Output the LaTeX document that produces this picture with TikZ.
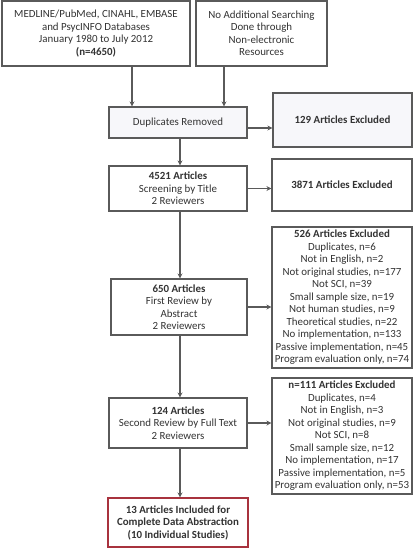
\documentclass[tikz,border=0pt]{standalone}
\usepackage{fontspec}
\setmainfont{Carlito}
\usetikzlibrary{arrows.meta}
\definecolor{txt}{HTML}{333333}
\definecolor{bord}{HTML}{5A5A5A}
\definecolor{redb}{HTML}{A8323E}
\definecolor{lfill}{HTML}{F7F7FA}
\begin{document}
\begin{tikzpicture}[x=1pt,y=-1pt,
  box/.style={draw=bord,line width=1.1pt,fill=white,align=center,inner sep=0pt,
    text=txt,font=\fontsize{10.9}{12.5}\selectfont},
  arr/.style={draw=bord,line width=1.1pt,-{Stealth[length=5pt,width=5pt]}}]
\useasboundingbox (0,0) rectangle (413,549);
\coordinate (sp) at (180,0);
\node[box,minimum width=188pt,minimum height=65pt] (A) at (96,33.5)
  {MEDLINE/PubMed, CINAHL, EMBASE\\and PsycINFO Databases\\January 1980 to July 2012\\\textbf{(n=4650)}};
\node[box,minimum width=131pt,minimum height=65pt] (B) at (261.5,33.5)
  {No Additional Searching\\Done through\\Non-electronic\\Resources};
\node[box,fill=lfill,minimum width=138pt,minimum height=31pt] (dup) at (178,122.5)
  {Duplicates Removed};
\node[box,fill=lfill,minimum width=139pt,minimum height=54pt] (ex1) at (342.5,120)
  {\textbf{129 Articles Excluded}};
\node[box,minimum width=138pt,minimum height=45pt] (s1) at (178,188.5)
  {\textbf{4521 Articles}\\Screening by Title\\2 Reviewers};
\node[box,minimum width=140pt,minimum height=52pt] (ex2) at (342,185)
  {\textbf{3871 Articles Excluded}};
\node[box,minimum width=136pt,minimum height=56pt] (s2) at (179,307)
  {\textbf{650 Articles}\\First Review by\\Abstract\\2 Reviewers};
\node[box,minimum width=140pt,minimum height=141pt] (ex3) at (342,297.5)
  {\textbf{526 Articles Excluded}\\Duplicates, n=6\\Not in English, n=2\\Not original studies, n=177\\Not SCI, n=39\\Small sample size, n=19\\Not human studies, n=9\\Theoretical studies, n=22\\No implementation, n=133\\Passive implementation, n=45\\Program evaluation only, n=74};
\node[box,minimum width=138pt,minimum height=50pt] (s3) at (178,423)
  {\textbf{124 Articles}\\Second Review by Full Text\\2 Reviewers};
\node[box,minimum width=140pt,minimum height=116pt] (ex4) at (342,436)
  {\textbf{n=111 Articles Excluded}\\Duplicates, n=4\\Not in English, n=3\\Not original studies, n=9\\Not SCI, n=8\\Small sample size, n=12\\No implementation, n=17\\Passive implementation, n=5\\Program evaluation only, n=53};
\node[box,draw=redb,minimum width=140pt,minimum height=49pt] (fin) at (178,522.5)
  {\textbf{13 Articles Included for}\\\textbf{Complete Data Abstraction}\\\textbf{(10 Individual Studies)}};
\draw[arr] ([xshift=36pt]A.south) -- ([xshift=36pt]A.south |- dup.north);
\draw[arr] ([xshift=-37.5pt]B.south) -- ([xshift=-37.5pt]B.south |- dup.north);
\draw[arr] ([yshift=-5.5pt]dup.east) -- ([yshift=-5.5pt]dup.east -| ex1.west);
\draw[arr] (dup.south -| sp) -- (s1.north -| sp);
\draw[arr] (s1.east) -- (s1.east -| ex2.west);
\draw[arr] (s1.south -| sp) -- (s2.north -| sp);
\draw[arr] (s2.east) -- (s2.east -| ex3.west);
\draw[arr] (s2.south -| sp) -- (s3.north -| sp);
\draw[arr] (s3.east) -- (s3.east -| ex4.west);
\draw[arr] (s3.south -| sp) -- (fin.north -| sp);
\end{tikzpicture}
\end{document}
